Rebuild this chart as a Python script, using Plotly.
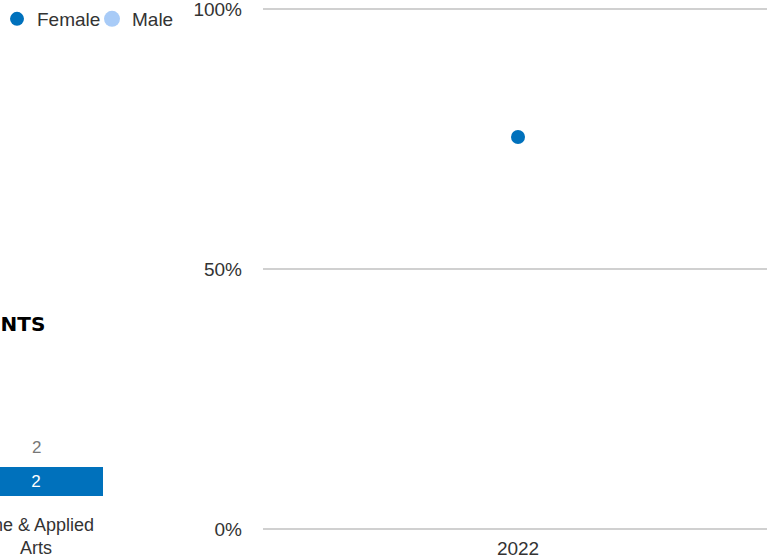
import plotly.graph_objects as go

# Main chart data
years = ["2022"]
female_share = [0.754]
male_share = [None]

# Partially visible side chart data
side_categories = ["Fine & Applied<br>Arts"]
side_female = [2]
side_total = [2]
side_title = "STUDENTS"

FEMALE_C = "#0071bc"
MALE_C = "#a8cbf7"
TXT = "#333333"
FONT = "Liberation Sans, Arial, sans-serif"

W, H = 772, 558
ML, MR, MT, MB = 0, 5, 7, 27
PW = W - ML - MR
PH = H - MT - MB

def px_x(p):
    return (p - ML) / PW

def px_y(p):
    return (H - MB - p) / PH

fig = go.Figure()

fig.add_trace(go.Scatter(
    x=years, y=female_share, name="Female", mode="markers",
    marker=dict(color=FEMALE_C, size=14),
    xaxis="x", yaxis="y",
))
fig.add_trace(go.Scatter(
    x=years, y=male_share, name="Male", mode="markers",
    marker=dict(color=MALE_C, size=16),
    xaxis="x", yaxis="y",
))

fig.add_trace(go.Bar(
    x=side_categories, y=side_female, width=0.8,
    marker=dict(color=FEMALE_C, line=dict(width=0)),
    text=[str(v) for v in side_female], textposition="inside",
    insidetextanchor="middle",
    textfont=dict(color="white", size=17, family=FONT),
    xaxis="x2", yaxis="y2", showlegend=False, hoverinfo="skip",
))

annotations = []
for c, t in zip(side_categories, side_total):
    annotations.append(dict(
        x=c, y=t, xref="x2", yref="y2", text=str(t), showarrow=False,
        yanchor="bottom", yshift=8,
        font=dict(color="#777777", size=17, family=FONT),
    ))
annotations.append(dict(
    x=px_x(47), y=px_y(324), xref="paper", yref="paper",
    xanchor="right", yanchor="middle", text="<b>" + side_title + "</b>",
    showarrow=False, font=dict(color="#000000", size=20, family="DejaVu Sans"),
))

bar_px_per_unit = 134 / 0.8

fig.update_layout(
    template="none",
    width=W, height=H,
    margin=dict(l=ML, r=MR, t=MT, b=MB, autoexpand=False),
    paper_bgcolor="white", plot_bgcolor="white",
    font=dict(family=FONT, size=19, color=TXT),
    showlegend=True,
    legend=dict(
        orientation="h", x=px_x(-3), y=px_y(0), xanchor="left", yanchor="top",
        font=dict(size=19, color=TXT), itemsizing="trace", bgcolor="rgba(0,0,0,0)",
        tracegroupgap=0, entrywidth=50, entrywidthmode="pixels",
    ),
    xaxis=dict(
        domain=[px_x(263), 1], type="category", anchor="y", automargin=False,
        range=[-0.506, 0.494],
        showgrid=False, zeroline=False, showline=False, ticks="",
        ticklabelstandoff=4, tickfont=dict(size=19, color=TXT),
    ),
    yaxis=dict(
        domain=[0, 1], range=[-0.004, 1.004], anchor="x", automargin=False,
        tickvals=[0, 0.5, 1], tickformat=".0%", ticklabeloverflow="allow",
        showgrid=True, gridcolor="#d0d0d0", gridwidth=2,
        zeroline=False, showline=False, ticks="",
        ticklabelstandoff=20, tickfont=dict(size=19, color=TXT),
    ),
    xaxis2=dict(
        domain=[0, px_x(103)], type="category", anchor="y2", automargin=False,
        range=[-36 / bar_px_per_unit, 0.4],
        showgrid=False, zeroline=False, showline=False, ticks="",
        ticklabelstandoff=16, tickfont=dict(size=18, color=TXT),
    ),
    yaxis2=dict(
        domain=[px_y(496), px_y(380)], range=[0, 8], anchor="x2", automargin=False,
        showgrid=False, zeroline=False, showline=False, showticklabels=False,
    ),
    annotations=annotations,
)

fig.write_html("out.html", config={"displayModeBar": False},
               post_script="document.body.style.margin='0px';")
